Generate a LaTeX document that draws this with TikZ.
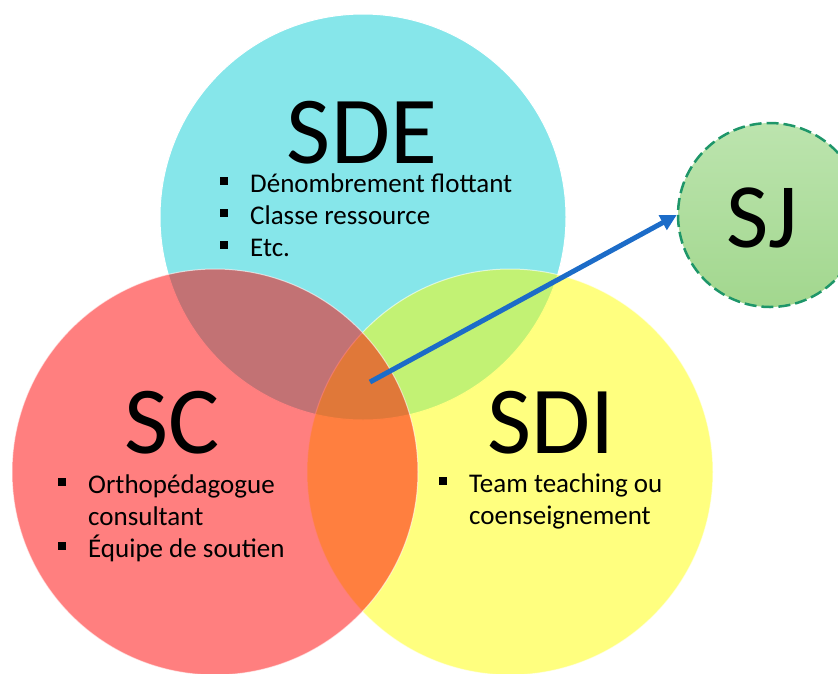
\documentclass[tikz,border=0pt]{standalone}
\usepackage{fontspec}
\setmainfont{Carlito}
\usepackage{tikz}
\usetikzlibrary{arrows.meta}
\usetikzlibrary{shapes}

\definecolor{sdecyan}{RGB}{134,230,234}
\definecolor{scred}{RGB}{255,0,0}
\definecolor{sdiyellow}{RGB}{255,255,0}
\definecolor{sjtop}{RGB}{188,228,174}
\definecolor{sjbottom}{RGB}{162,215,142}
\definecolor{sjborder}{RGB}{30,150,105}
\definecolor{arrowblue}{RGB}{28,108,200}

\newcommand{\sqb}{\rule[7pt]{8pt}{8pt}}

\tikzset{
        set/.style={circle, inner sep=0pt, minimum size=406pt, draw=white, line width=1pt},
        big/.style={inner sep=0pt, text depth=0pt, anchor=base, font=\fontsize{96}{96}\selectfont},
        items/.style={inner sep=0pt, anchor=base west, font=\fontsize{27}{32}\selectfont}
}

\begin{document}
\begin{tikzpicture}[x=1pt, y=-1pt]
        \clip (0,0) rectangle (838,673);

        \node[set, fill=sdecyan] (sde) at (363,217) {};
        \node[set, fill=sdiyellow, fill opacity=0.5, draw opacity=0.6] (sdi) at (510,472) {};
        \node[set, fill=scred, fill opacity=0.5, draw opacity=0.6] (sc) at (215,472) {};

        \node[circle, inner sep=0pt, minimum size=184pt, top color=sjtop, bottom color=sjbottom,
            draw=sjborder, line width=2.5pt, dash pattern=on 12pt off 5pt] (sj) at (770,215) {};

        \node[big] (sdelabel) at (362,163) {SDE};
        \node[big] (sclabel) at (172,453) {SC};
        \node[big] (sdilabel) at (551,453) {SDI};
        \node[big, font=\fontsize{92}{92}\selectfont] (sjlabel) at (762,247) {SJ};

        \node[items] (sdeitems) at (220,192) {\begin{tabular}[t]{@{}l@{\hspace{22pt}}l@{}}
            \sqb & Dénombrement flottant\\
            \sqb & Classe ressource\\
            \sqb & Etc.
        \end{tabular}};
        \node[items] (scitems) at (58,493) {\begin{tabular}[t]{@{}l@{\hspace{22pt}}l@{}}
            \sqb & Orthopédagogue\\
                 & consultant\\
            \sqb & Équipe de soutien
        \end{tabular}};
        \node[items] (sdiitems) at (439,492) {\begin{tabular}[t]{@{}l@{\hspace{22pt}}l@{}}
            \sqb & Team teaching ou\\
                 & coenseignement
        \end{tabular}};

        \coordinate (core) at (370,382);
        \draw[arrowblue, line width=5pt, -{Triangle[length=16pt, width=16pt]}] (core) -- (sj.west);
\end{tikzpicture}
\end{document}
